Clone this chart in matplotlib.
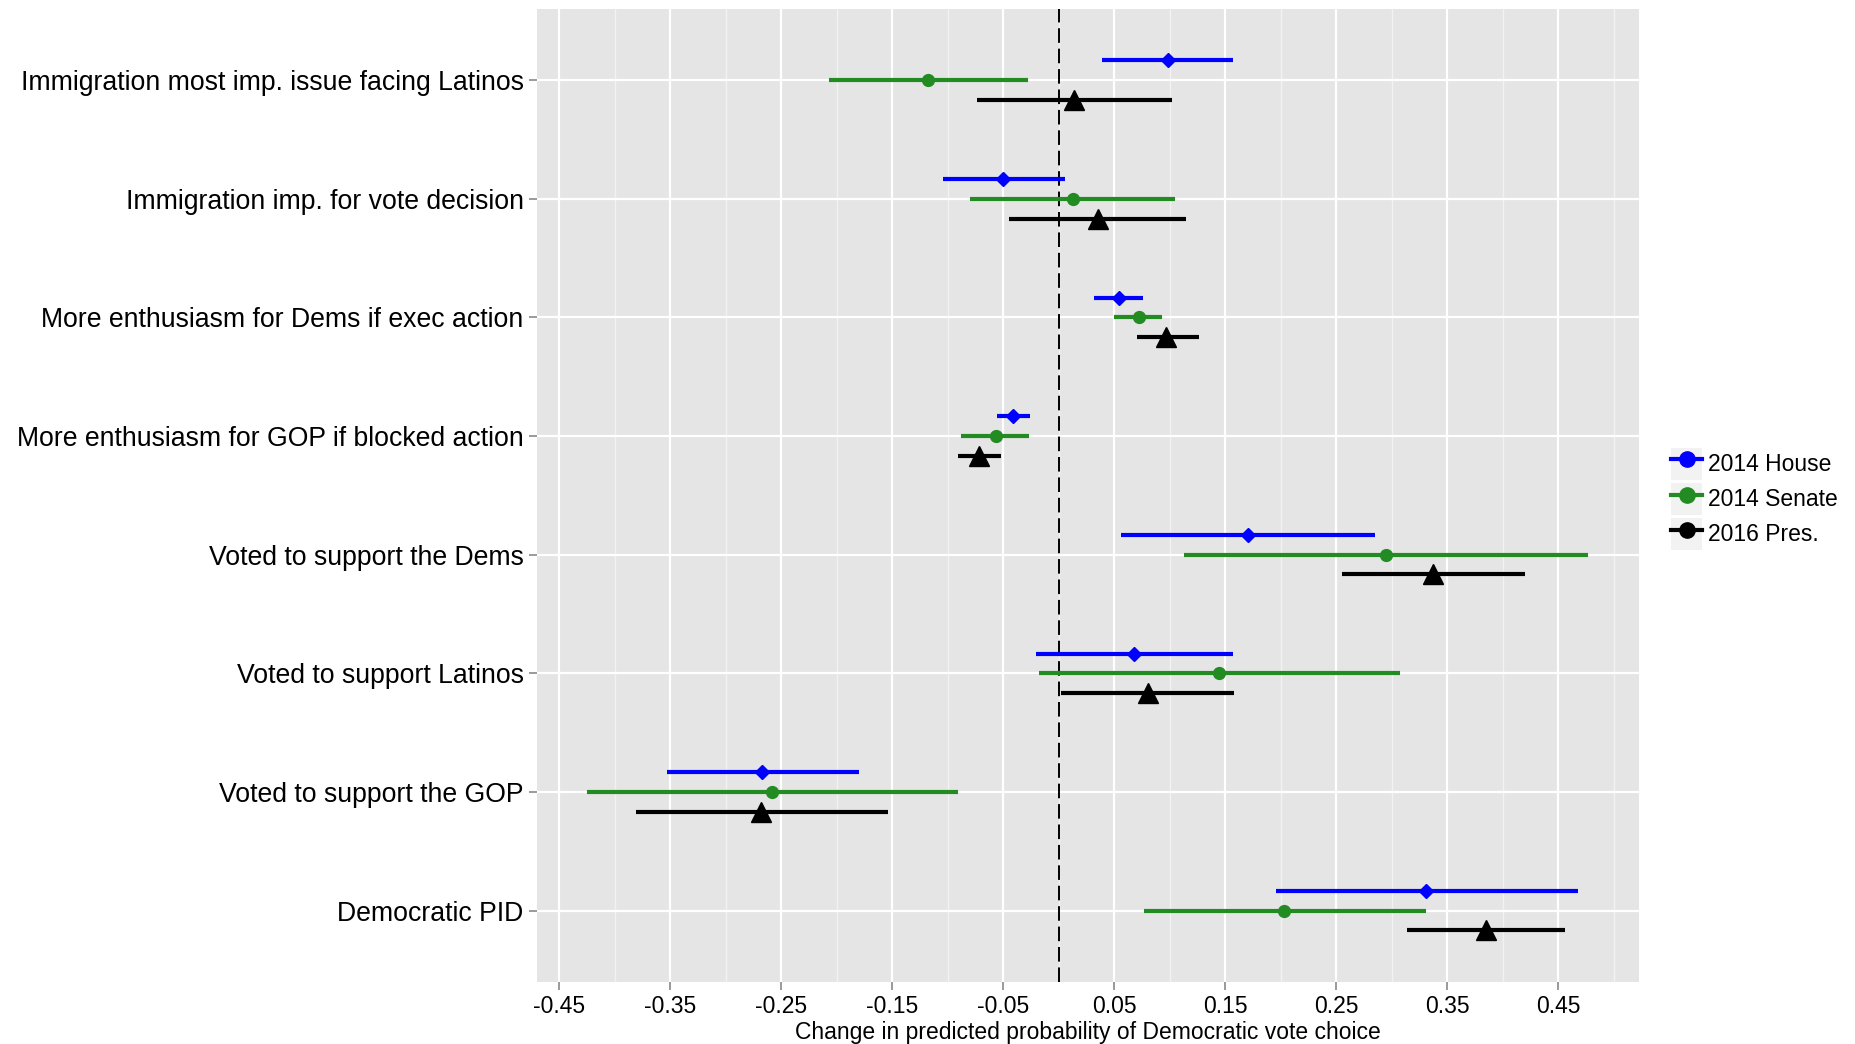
import numpy as np
import matplotlib.pyplot as plt
from matplotlib.lines import Line2D
from matplotlib.patches import Rectangle
from matplotlib.legend_handler import HandlerLine2D

plt.rcParams['font.family'] = ['Liberation Sans', 'DejaVu Sans']

# categories, top to bottom
labels = [
    "Immigration most imp. issue facing Latinos",
    "Immigration imp. for vote decision",
    "More enthusiasm for Dems if exec action",
    "More enthusiasm for GOP if blocked action",
    "Voted to support the Dems",
    "Voted to support Latinos",
    "Voted to support the GOP",
    "Democratic PID",
]

# 2014 House
house_est = [0.098, -0.050, 0.054, -0.041, 0.170, 0.068, -0.267, 0.331]
house_lo = [0.039, -0.104, 0.032, -0.056, 0.056, -0.021, -0.353, 0.196]
house_hi = [0.157, 0.006, 0.076, -0.026, 0.285, 0.157, -0.180, 0.468]

# 2014 Senate
senate_est = [-0.118, 0.013, 0.072, -0.057, 0.295, 0.144, -0.258, 0.203]
senate_lo = [-0.207, -0.080, 0.050, -0.088, 0.113, -0.018, -0.425, 0.077]
senate_hi = [-0.028, 0.105, 0.093, -0.027, 0.477, 0.307, -0.091, 0.331]

# 2016 Pres.
pres_est = [0.014, 0.035, 0.097, -0.072, 0.337, 0.080, -0.268, 0.385]
pres_lo = [-0.074, -0.045, 0.070, -0.091, 0.255, 0.002, -0.381, 0.314]
pres_hi = [0.102, 0.115, 0.126, -0.052, 0.420, 0.158, -0.154, 0.456]

xticks = [-0.45, -0.35, -0.25, -0.15, -0.05, 0.05, 0.15, 0.25, 0.35, 0.45]


class KeyHandler(HandlerLine2D):
    # ggplot-style grey box behind each legend key
    def create_artists(self, legend, orig_handle, xdescent, ydescent,
                       width, height, fontsize, trans):
        bg = Rectangle((-xdescent, -ydescent), width, height,
                       facecolor='#F2F2F2', edgecolor='none', transform=trans)
        arts = super().create_artists(legend, orig_handle, xdescent, ydescent,
                                      width, height, fontsize, trans)
        return [bg] + list(arts)


fig = plt.figure(figsize=(18.55, 10.44), dpi=100)
ax = fig.add_axes([536.7 / 1855, 1 - 981.7 / 1044, (1639 - 536.7) / 1855, (981.7 - 9) / 1044])
ax.set_facecolor('#E5E5E5')

n = len(labels)
pos = np.arange(n)[::-1]
off = 1 / 6

series = [
    (house_est, house_lo, house_hi, 'blue', 'D', 7.5, off),
    (senate_est, senate_lo, senate_hi, '#228B22', 'o', 8.5, 0),
    (pres_est, pres_lo, pres_hi, 'black', '^', 15, -off),
]

# grid
for v in np.arange(-0.40, 0.55, 0.1):
    ax.axvline(v, color='#F2F2F2', lw=1.0, zorder=0)
for v in xticks:
    ax.axvline(v, color='white', lw=1.6, zorder=0.5)
for p in pos:
    ax.axhline(p, color='white', lw=1.6, zorder=0.5)

ax.axvline(0, color='black', lw=1.4, ls=(0, (7.5, 3)), zorder=1)

for est, lo, hi, col, mk, ms, dy in series:
    y = pos + dy
    ax.hlines(y, lo, hi, color=col, lw=3.0, zorder=2)
    ax.plot(est, y, ls='none', marker=mk, ms=ms, color=col, mec=col, zorder=3)

ax.set_xlim(-0.4704, 0.5227)
ax.set_ylim(-0.6, n - 1 + 0.6)
ax.set_xticks(xticks)
ax.set_xticklabels([f"{v:.2f}" for v in xticks], fontsize=16.5)
ax.set_yticks(pos)
ax.set_yticklabels(labels, fontsize=19.2)
ax.tick_params(axis='both', color='#7F7F7F', length=5.5, width=1.1, labelcolor='black')
ax.tick_params(axis='x', pad=4)
ax.tick_params(axis='y', pad=4)
for s in ax.spines.values():
    s.set_visible(False)

ax.set_xlabel("Change in predicted probability of Democratic vote choice", fontsize=16.5, labelpad=2)

handles = [
    Line2D([], [], color='blue', lw=3, marker='o', ms=11),
    Line2D([], [], color='#228B22', lw=3, marker='o', ms=11),
    Line2D([], [], color='black', lw=3, marker='o', ms=11),
]
fig.legend(handles, ["2014 House", "2014 Senate", "2016 Pres."],
           loc='center left', bbox_to_anchor=(1655 / 1855, 1 - 499 / 1044),
           frameon=False, fontsize=16.5, handlelength=1.35, handleheight=1.82,
           handletextpad=0.25, labelspacing=0.1, borderpad=0.2,
           handler_map={Line2D: KeyHandler()})

fig.savefig('out.png', dpi=100)
